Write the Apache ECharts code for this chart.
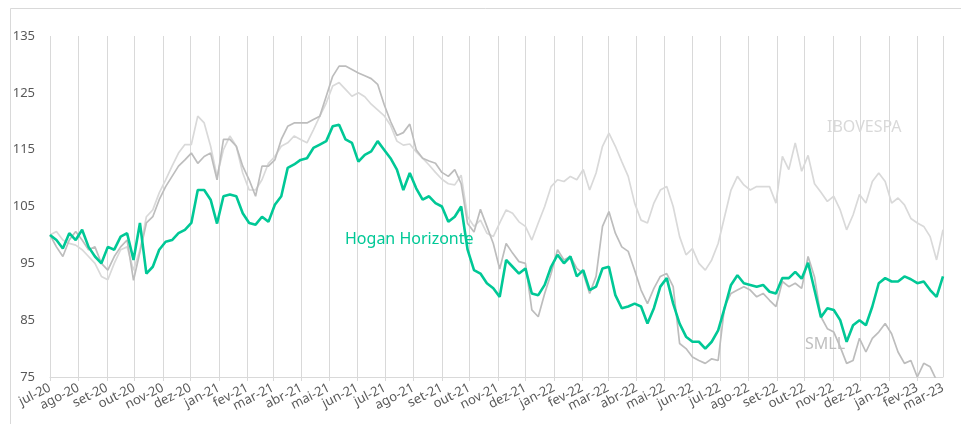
<!DOCTYPE html>
<html>
<head>
<meta charset="utf-8">
<script src="https://cdn.jsdelivr.net/npm/echarts@6/dist/echarts.min.js"></script>
<style>html,body{margin:0;padding:0;background:#fff}#c{width:961px;height:424px}</style>
</head>
<body>
<div id="c"></div>
<script>
// Month tick labels (Portuguese), starting 1 Jul 2020
const monthLabels = ['jul-20','ago-20','set-20','out-20','nov-20','dez-20','jan-21','fev-21','mar-21','abr-21','mai-21','jun-21',
  'jul-21','ago-21','set-21','out-21','nov-21','dez-21','jan-22','fev-22','mar-22','abr-22','mai-22','jun-22',
  'jul-22','ago-22','set-22','out-22','nov-22','dez-22','jan-23','fev-23','mar-23'];
const yTicks = [75, 85, 95, 105, 115, 125, 135];
const stepDays = 7; // weekly observations from 1 Jul 2020

const hogan = [100.0,99.1,97.6,100.3,99.1,100.9,97.9,96.2,95.0,97.9,97.4,99.7,100.3,95.6,102.1,93.2,94.4,97.4,98.8,99.1,100.3,100.9,102.1,107.9,
  107.9,106.2,102.0,106.8,107.1,106.8,103.8,102.1,101.8,103.2,102.3,105.3,106.8,111.8,112.4,113.2,113.5,115.3,115.9,116.5,119.1,119.4,116.8,116.2,
  112.9,114.1,114.7,116.5,115.0,113.5,111.5,107.9,110.9,108.2,106.2,106.8,105.6,105.0,102.3,103.2,105.0,97.4,93.8,93.2,91.5,90.6,89.1,95.6,
  94.4,93.2,94.1,89.7,89.4,91.2,94.4,96.5,95.0,96.2,92.7,93.8,90.3,90.9,94.1,94.4,89.4,87.1,87.4,87.9,87.4,84.4,87.1,90.9,
  92.4,87.9,84.4,82.1,81.2,81.2,80.0,81.2,83.2,87.1,91.2,92.9,91.5,91.2,90.9,91.2,90.0,89.7,92.4,92.4,93.5,92.3,95.1,90.3,85.5,
  87.1,86.8,85.0,81.2,84.1,85.0,84.1,87.4,91.5,92.4,91.8,91.8,92.7,92.2,91.5,91.8,90.3,89.1,92.7];

const smll = [100.0,97.9,96.2,99.1,100.6,99.1,97.4,97.9,95.0,93.8,96.2,97.9,99.1,92.0,97.0,102.1,103.2,106.2,108.5,110.3,112.1,113.2,114.4,112.6,
  113.8,114.4,109.7,116.8,116.8,115.6,112.1,109.7,106.8,112.1,112.1,113.2,116.8,119.1,119.7,119.7,119.7,120.3,120.9,124.4,127.9,129.7,129.7,129.1,
  128.5,128.0,127.5,126.5,123.0,120.0,117.5,118.0,119.5,115.0,113.5,113.0,112.6,111.0,110.3,111.5,109.0,102.0,100.5,104.5,101.5,98.5,94.0,98.5,
  96.8,95.3,95.0,86.8,85.6,89.7,93.2,97.4,95.6,96.2,94.1,93.2,89.7,92.7,101.5,104.1,100.3,97.9,97.1,93.8,90.3,87.9,90.6,92.7,
  93.2,90.9,80.9,80.0,78.5,77.9,77.4,78.2,77.9,87.4,89.7,90.3,90.9,90.3,89.1,89.7,88.5,87.4,91.8,90.9,91.5,90.6,96.2,92.6,85.6,
  83.5,82.9,80.3,77.4,77.9,81.8,79.4,81.8,82.9,84.4,82.6,79.4,77.4,77.9,75.0,77.4,76.8,74.4,73.2];

const ibovespa = [100.0,100.6,99.1,98.5,98.2,97.4,96.2,95.0,92.7,92.1,95.0,97.4,97.9,93.8,97.4,103.2,104.4,107.4,109.7,112.1,114.4,115.9,115.9,120.9,
  119.7,115.6,110.3,115.0,117.4,115.6,110.9,107.9,107.9,109.7,112.6,113.8,115.6,116.2,117.4,116.8,116.2,118.5,120.9,123.2,126.2,126.8,125.6,124.4,
  125.0,124.3,123.0,122.0,121.0,119.3,116.5,115.8,116.0,114.6,113.5,112.3,111.0,109.8,109.0,108.8,110.5,103.2,101.5,102.6,100.3,99.7,102.1,104.4,
  103.8,102.3,101.5,99.1,102.1,105.0,108.5,109.7,109.4,110.3,109.7,111.5,107.9,110.9,115.6,117.9,115.6,112.9,110.3,105.6,102.6,102.1,105.6,107.9,
  108.5,105.0,99.7,96.5,97.6,95.0,93.8,95.6,98.5,103.2,107.9,110.3,108.8,107.9,108.5,108.5,108.5,105.6,113.8,111.5,116.2,111.2,114.0,109.0,107.5,
  105.9,106.8,104.4,100.9,103.5,107.1,105.6,109.4,110.9,109.4,105.6,106.5,105.3,102.9,102.1,101.5,99.7,95.6,100.9];

const start = new Date(2020, 6, 1).getTime();
const DAY = 86400000;
const monthOffsets = monthLabels.map((_, k) => Math.round((new Date(2020, 6 + k, 1).getTime() - start) / DAY));
const lastOffset = monthOffsets[monthOffsets.length - 1];
const toXY = arr => arr.map((v, i) => [i * stepDays, v]);

const gridColor = '#D9D9D9';
const textColor = '#595959';
const font = '"Noto Sans", sans-serif';
const labelFmt = v => { const k = monthOffsets.indexOf(Math.round(v)); return k >= 0 ? monthLabels[k] : ''; };
const labelBase = {rotate: 27, margin: 10, color: textColor, fontSize: 13, fontFamily: font, formatter: labelFmt};

const chart = echarts.init(document.getElementById('c'), null, {renderer: 'canvas'});
chart.setOption({
  animation: false,
  backgroundColor: '#fff',
  grid: {left: 50, right: 18, top: 36, bottom: 47},
  xAxis: [{
    type: 'value',
    position: 'bottom',
    min: monthOffsets[0],
    max: lastOffset,
    axisLine: {show: true, lineStyle: {color: gridColor, width: 1}},
    axisTick: {show: true, length: 4, customValues: monthOffsets, lineStyle: {color: gridColor}},
    splitLine: {show: true, lineStyle: {color: gridColor, width: 1}},
    axisLabel: Object.assign({customValues: monthOffsets, showMinLabel: true, showMaxLabel: false, hideOverlap: false}, labelBase)
  }, {
    type: 'value',
    position: 'bottom',
    offset: 0,
    min: monthOffsets[0],
    max: lastOffset,
    axisLine: {show: false},
    axisTick: {show: false},
    splitLine: {show: false},
    axisLabel: Object.assign({customValues: [lastOffset], showMaxLabel: true, hideOverlap: false}, labelBase)
  }],
  yAxis: {
    type: 'value',
    min: yTicks[0],
    max: yTicks[yTicks.length - 1],
    interval: 10,
    axisLine: {show: false},
    axisTick: {show: false},
    splitLine: {show: false},
    axisLabel: {color: textColor, fontSize: 13, fontFamily: font, margin: 15}
  },
  series: [
    {name: 'IBOVESPA', type: 'line', data: toXY(ibovespa), showSymbol: false, symbol: 'none',
      lineStyle: {color: '#D9D9D9', width: 1.7}, z: 1},
    {name: 'SMLL', type: 'line', data: toXY(smll), showSymbol: false, symbol: 'none',
      lineStyle: {color: '#BDBDBD', width: 1.7}, z: 2},
    {name: 'Hogan Horizonte', type: 'line', data: toXY(hogan), showSymbol: false, symbol: 'none',
      lineStyle: {color: '#00C896', width: 2.6}, z: 3}
  ],
  graphic: [
    {type: 'line', shape: {x1: 10.5, y1: 8.5, x2: 961, y2: 8.5}, style: {stroke: gridColor, lineWidth: 1}, silent: true},
    {type: 'line', shape: {x1: 10.5, y1: 8.5, x2: 10.5, y2: 424}, style: {stroke: gridColor, lineWidth: 1}, silent: true},
    {type: 'text', left: 345, top: 231, style: {text: 'Hogan Horizonte', fill: '#00C896', font: '16px ' + font}, z: 10},
    {type: 'text', left: 827, top: 119, style: {text: 'IBOVESPA', fill: '#D9D9D9', font: '16px ' + font}, z: 10},
    {type: 'text', left: 805, top: 336, style: {text: 'SMLL', fill: '#BFBFBF', font: '16px ' + font}, z: 10}
  ]
});
</script>
</body>
</html>
